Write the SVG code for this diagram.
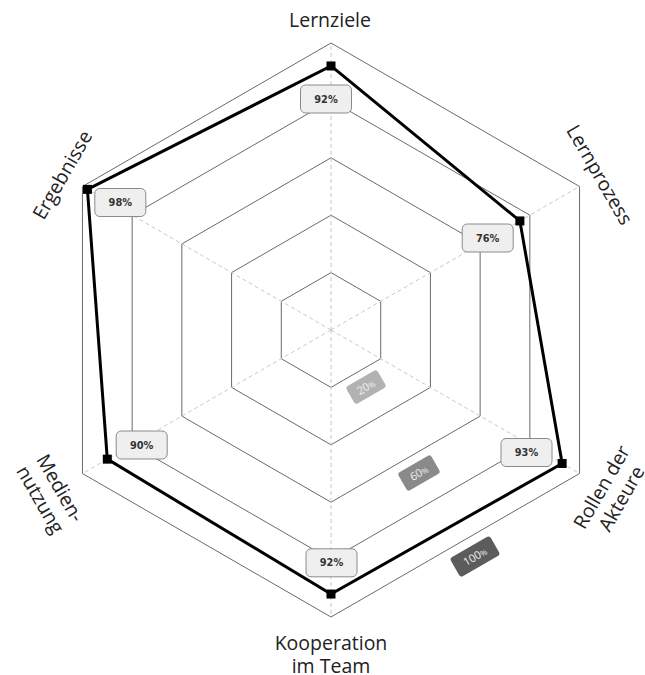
<svg xmlns="http://www.w3.org/2000/svg" width="645" height="675" viewBox="0 0 645 675">
<defs>
<style>
.ring{fill:none;stroke:#6a6a6a;stroke-width:1}
.spoke{stroke:#c8c8c8;stroke-width:1;stroke-dasharray:4 3}
.data{fill:none;stroke:#000;stroke-width:3;stroke-linejoin:miter}
.mk{fill:#000}
.vbox{fill:#efefef;stroke:#8a8a8a;stroke-width:1}
.vtxt{font-family:"DejaVu Sans",sans-serif;font-weight:bold;font-size:9.8px;fill:#333;text-anchor:middle}
.ax{font-family:"Open Sans","Liberation Sans",sans-serif;font-size:19.5px;fill:#222;text-anchor:middle}
.stxt{font-family:"Open Sans","Liberation Sans",sans-serif;font-size:11px;fill:#f0f0f0;text-anchor:middle}
.pct{font-size:8px}
</style>
</defs>
<rect width="645" height="675" fill="#fff"/>
<g id="grid">
<polygon class="ring" points="331,272.6 380.71,301.3 380.71,358.7 331,387.4 281.29,358.7 281.29,301.3"/>
<polygon class="ring" points="331,215.2 430.42,272.6 430.42,387.4 331,444.8 231.58,387.4 231.58,272.6"/>
<polygon class="ring" points="331,157.8 480.13,243.9 480.13,416.1 331,502.2 181.87,416.1 181.87,243.9"/>
<polygon class="ring" points="331,100.4 529.84,215.2 529.84,444.8 331,559.6 132.16,444.8 132.16,215.2"/>
<polygon class="ring" points="331,43 579.55,186.5 579.55,473.5 331,617 82.45,473.5 82.45,186.5"/>
</g>
<g id="connectors">
<line class="spoke" x1="331" y1="330" x2="331" y2="43"/>
<line class="spoke" x1="331" y1="330" x2="579.55" y2="186.5"/>
<line class="spoke" x1="331" y1="330" x2="579.55" y2="473.5"/>
<line class="spoke" x1="331" y1="330" x2="331" y2="617"/>
<line class="spoke" x1="331" y1="330" x2="82.45" y2="473.5"/>
<line class="spoke" x1="331" y1="330" x2="82.45" y2="186.5"/>
<polygon class="data" points="331,65.96 519.9,220.94 562.15,463.46 331,594.04 107.3,459.15 87.42,189.37"/>
</g>
<g id="scale">
<g id="s20" transform="translate(366,387) rotate(-30)">
<rect x="-18" y="-10" width="36" height="20" rx="3" fill="#b2b2b2"/>
<text class="stxt" y="4">20<tspan class="pct">%</tspan></text>
</g>
<g id="s60" transform="translate(419,473) rotate(-30)">
<rect x="-19" y="-10.5" width="38" height="21" rx="3" fill="#8a8a8a"/>
<text class="stxt" y="4">60<tspan class="pct">%</tspan></text>
</g>
<g id="s100" transform="translate(475,556.5) rotate(-30)">
<rect x="-23" y="-11" width="46" height="22" rx="3" fill="#5c5c5c"/>
<text class="stxt" y="4">100<tspan class="pct">%</tspan></text>
</g>
</g>
<g id="lernziele">
<rect class="mk" x="326.5" y="61.46" width="9" height="9"/>
<rect class="vbox" x="300.5" y="85" width="51" height="28" rx="5"/>
<text class="vtxt" x="326" y="102.5">92%</text>
<text class="ax" x="330" y="26.5">Lernziele</text>
</g>
<g id="lernprozess">
<rect class="mk" x="515.4" y="216.44" width="9" height="9"/>
<rect class="vbox" x="462.2" y="224" width="51" height="28" rx="5"/>
<text class="vtxt" x="487.7" y="241.5">76%</text>
<text class="ax" transform="translate(593.7,178.35) rotate(60)">Lernprozess</text>
</g>
<g id="rollen">
<rect class="mk" x="557.65" y="458.96" width="9" height="9"/>
<rect class="vbox" x="501" y="438.5" width="51" height="28" rx="5"/>
<text class="vtxt" x="526.5" y="456">93%</text>
<text class="ax" transform="translate(607.5,490.5) rotate(-60)"><tspan x="0" y="0">Rollen der</tspan><tspan x="0" y="23">Akteure</tspan></text>
</g>
<g id="kooperation">
<rect class="mk" x="326.5" y="589.54" width="9" height="9"/>
<rect class="vbox" x="306" y="548.8" width="51" height="28" rx="5"/>
<text class="vtxt" x="331.5" y="566.3">92%</text>
<text class="ax" x="331" y="649.5">Kooperation</text>
<text class="ax" x="331" y="673">im Team</text>
</g>
<g id="mediennutzung">
<rect class="mk" x="102.8" y="454.65" width="9" height="9"/>
<rect class="vbox" x="116.2" y="431" width="51" height="28" rx="5"/>
<text class="vtxt" x="141.7" y="448.5">90%</text>
<text class="ax" transform="translate(54.3,491.5) rotate(60)"><tspan x="0" y="0">Medien-</tspan><tspan x="0" y="23">nutzung</tspan></text>
</g>
<g id="ergebnisse">
<rect class="mk" x="82.92" y="184.87" width="9" height="9"/>
<rect class="vbox" x="94.8" y="188.5" width="51" height="28" rx="5"/>
<text class="vtxt" x="120.3" y="206">98%</text>
<text class="ax" transform="translate(68.3,178.35) rotate(-60)">Ergebnisse</text>
</g>
</svg>
